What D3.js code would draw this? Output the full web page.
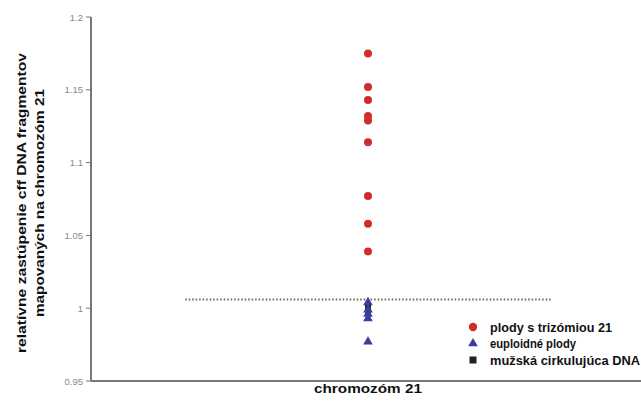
<!DOCTYPE html>
<html>
<head>
<meta charset="utf-8">
<script src="https://cdn.jsdelivr.net/npm/d3@7"></script>
<style>
  body { margin: 0; background: #fff; }
  text { font-family: "Liberation Sans", Arial, sans-serif; }
</style>
</head>
<body>
<div id="chart"></div>
<script>
// data
const categories = ['chromozóm 21'];
const trisomy = [1.175, 1.152, 1.143, 1.132, 1.129, 1.114, 1.077, 1.058, 1.039];
const euploid = [1.004, 0.999, 0.996, 0.993, 0.977];
const maleDna = [1.002, 0.999, 0.997];
const refLevel = 1.006;
const yTicks = [0.95, 1, 1.05, 1.1, 1.15, 1.2];
const legendLabels = ['plody s trizómiou  21', 'euploidné  plody', 'mužská  cirkulujúca  DNA'];
const yTitle = ['relatívne zastúpenie cff DNA fragmentov', 'mapovaných na chromozóm 21'];

const width = 641, height = 407;
const svg = d3.select('#chart').append('svg')
    .attr('width', width)
    .attr('height', height);

const x = d3.scaleBand().domain(categories).range([91, 645]);
const y = d3.scaleLinear().domain([0.95, 1.2]).range([381, 17]);
const cx = x(categories[0]) + x.bandwidth() / 2;

// axes
svg.append('line')
    .attr('x1', 91).attr('x2', width)
    .attr('y1', y(0.95)).attr('y2', y(0.95))
    .attr('stroke', '#777').attr('stroke-width', 2);
svg.append('line')
    .attr('x1', 91).attr('x2', 91)
    .attr('y1', y(1.2)).attr('y2', y(0.95))
    .attr('stroke', '#777').attr('stroke-width', 2);

const ticks = svg.append('g');
yTicks.forEach(t => {
    ticks.append('line')
        .attr('x1', 86).attr('x2', 91)
        .attr('y1', y(t)).attr('y2', y(t))
        .attr('stroke', '#777').attr('stroke-width', 1);
    ticks.append('text')
        .attr('x', 83).attr('y', y(t) + 3.5)
        .attr('text-anchor', 'end')
        .attr('font-size', 9.5)
        .attr('fill', '#888')
        .text(d3.format('.2~f')(t));
});

// dotted reference line
svg.append('line')
    .attr('x1', cx - x.bandwidth() * 0.33).attr('x2', cx + x.bandwidth() * 0.33)
    .attr('y1', y(refLevel)).attr('y2', y(refLevel))
    .attr('stroke', '#666').attr('stroke-width', 2)
    .attr('stroke-dasharray', '1.5 2');

// points
svg.append('g').selectAll('circle')
    .data(trisomy)
    .join('circle')
    .attr('cx', cx).attr('cy', d => y(d))
    .attr('r', 4)
    .attr('fill', '#cf2d2d');

svg.append('g').selectAll('rect')
    .data(maleDna)
    .join('rect')
    .attr('x', cx - 3).attr('y', d => y(d) - 3)
    .attr('width', 6).attr('height', 6)
    .attr('fill', '#222');

const tri = d3.symbol().type(d3.symbolTriangle).size(40);
svg.append('g').selectAll('path')
    .data(euploid)
    .join('path')
    .attr('d', tri)
    .attr('transform', d => `translate(${cx},${y(d)})`)
    .attr('fill', '#3b3c9c');

// axis titles
svg.append('text')
    .attr('x', cx).attr('y', 393)
    .attr('text-anchor', 'middle')
    .attr('font-size', 13).attr('font-weight', 'bold')
    .attr('fill', '#111')
    .attr('textLength', 108).attr('lengthAdjust', 'spacingAndGlyphs')
    .text(categories[0]);

const titleLengths = [300, 228];
yTitle.forEach((line, i) => {
    svg.append('text')
        .attr('transform', `translate(${26 + i * 18},203) rotate(-90)`)
        .attr('text-anchor', 'middle')
        .attr('font-size', 13).attr('font-weight', 'bold')
        .attr('fill', '#111')
        .attr('textLength', titleLengths[i]).attr('lengthAdjust', 'spacingAndGlyphs')
        .text(line);
});

// legend
const legend = svg.append('g').attr('transform', 'translate(473,327)');
const legendLengths = [122, 86, 150];
legendLabels.forEach((label, i) => {
    const g = legend.append('g').attr('transform', `translate(0,${i * 16.5})`);
    if (i === 0) g.append('circle').attr('r', 4.2).attr('fill', '#cf2d2d');
    if (i === 1) g.append('path').attr('d', tri).attr('fill', '#3b3c9c');
    if (i === 2) g.append('rect').attr('x', -3.5).attr('y', -3.5).attr('width', 7).attr('height', 7).attr('fill', '#222');
    g.append('text')
        .attr('x', 17).attr('y', 4.5)
        .attr('font-size', 12).attr('font-weight', 'bold')
        .attr('fill', '#111')
        .attr('textLength', legendLengths[i]).attr('lengthAdjust', 'spacingAndGlyphs')
        .text(label);
});
</script>
</body>
</html>
